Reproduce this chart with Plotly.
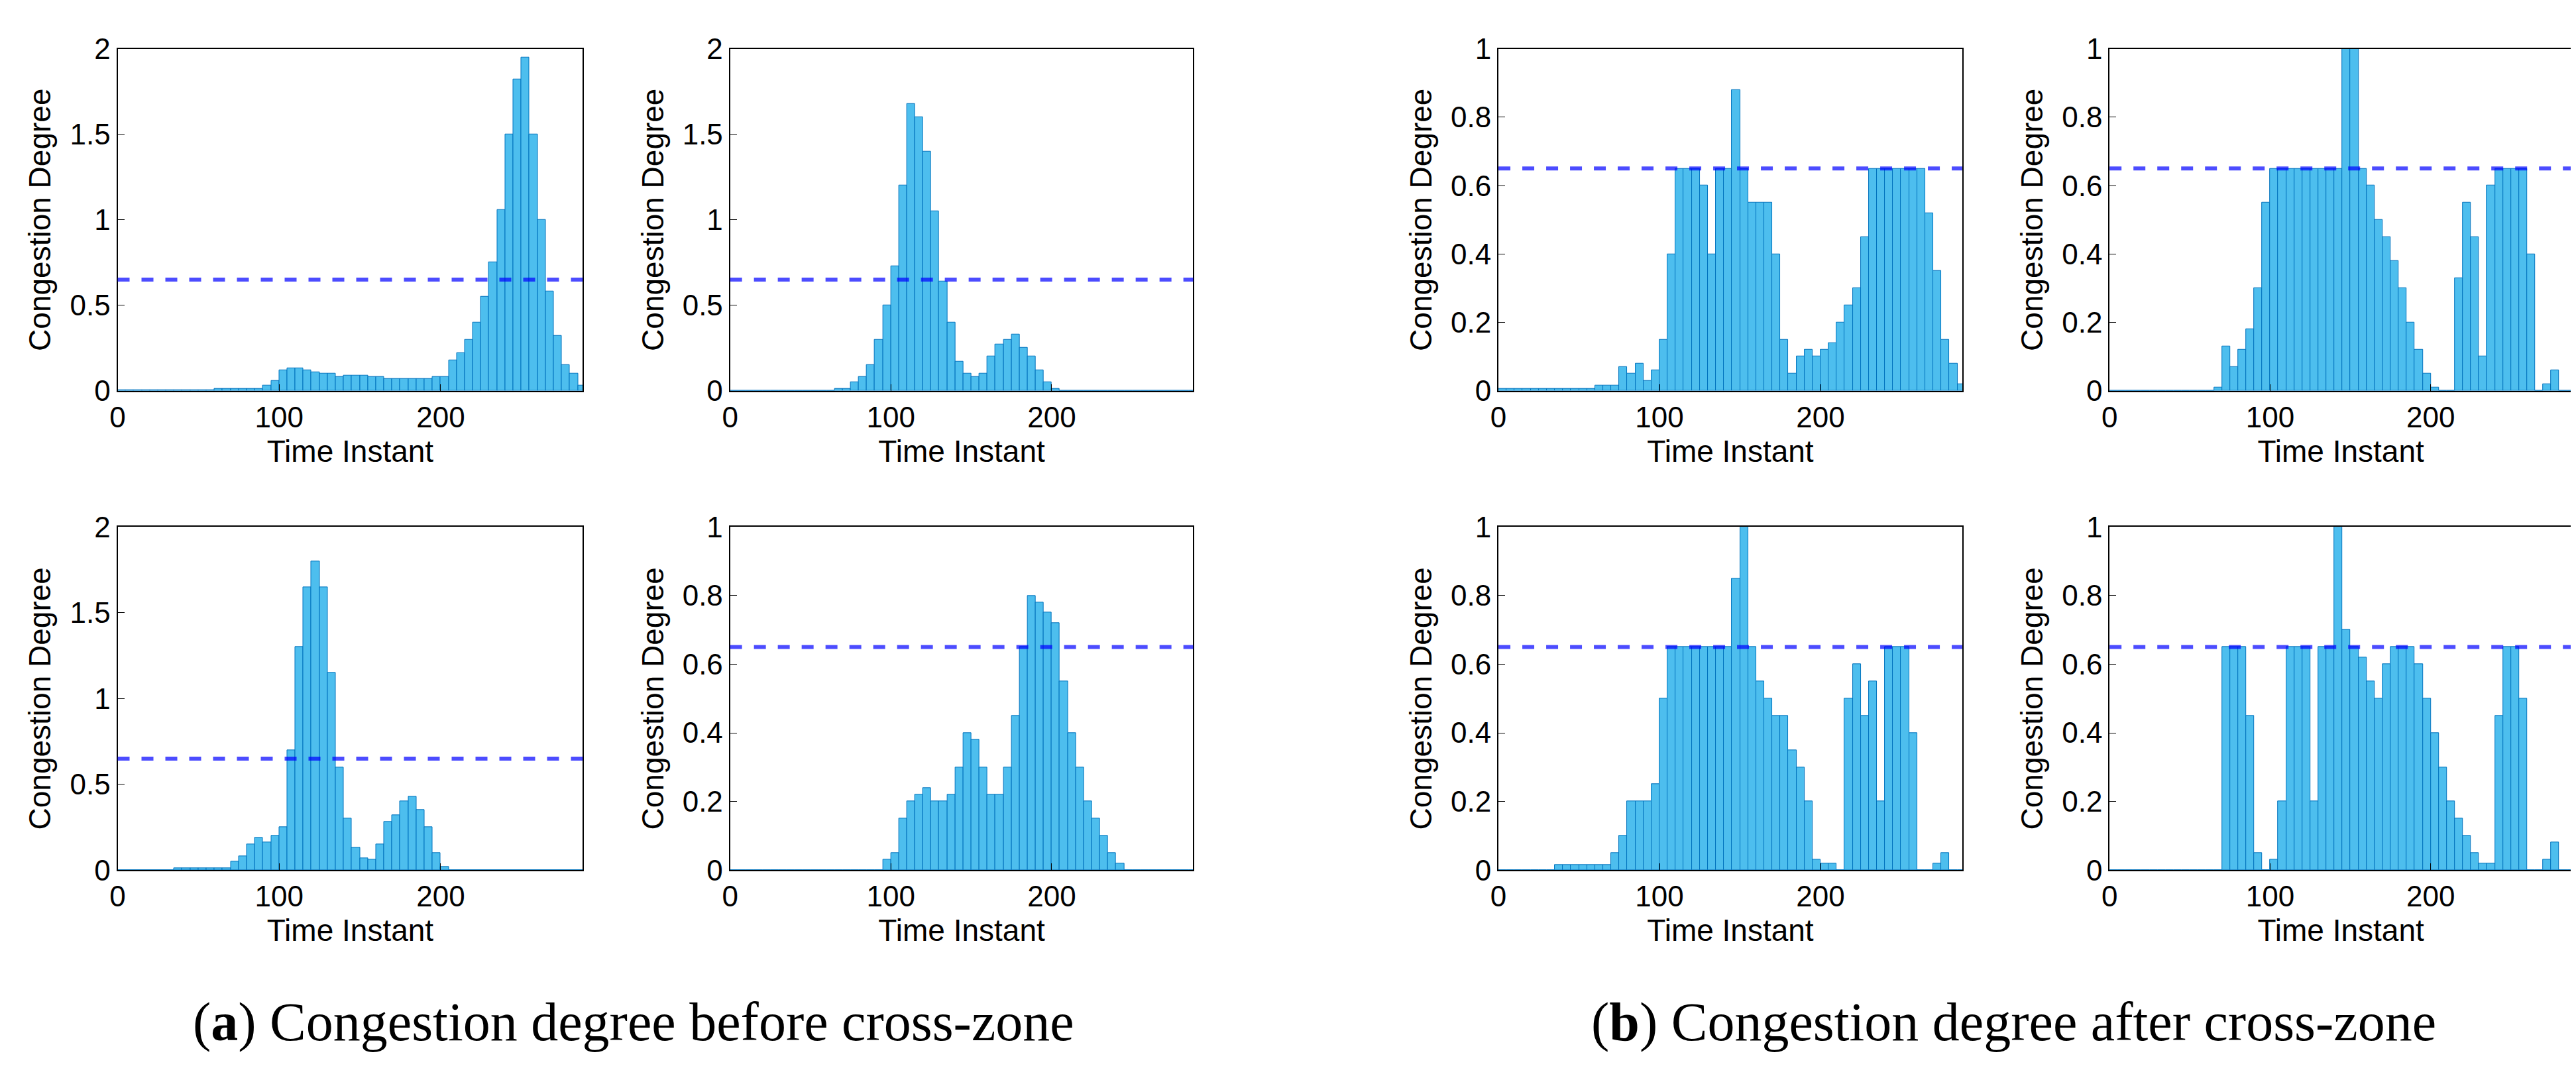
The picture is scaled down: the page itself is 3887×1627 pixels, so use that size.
import plotly.graph_objects as go
from plotly.subplots import make_subplots

# time instants sampled every 5 steps
t = list(range(0, 290, 5))

# (a) before cross-zone
a1 = [0.005]*12 + [0.01, 0.01, 0.01, 0.01, 0.01, 0.01, 0.03, 0.06, 0.12, 0.13, 0.13, 0.12, 0.11, 0.1,
      0.1, 0.08, 0.09, 0.09, 0.09, 0.08, 0.08, 0.07, 0.07, 0.07, 0.07, 0.07, 0.07, 0.08, 0.08, 0.18,
      0.22, 0.3, 0.4, 0.55, 0.75, 1.06, 1.5, 1.82, 1.95, 1.5, 1.0, 0.58, 0.32, 0.15, 0.1, 0.03]
a2 = [0]*13 + [0.01, 0.01, 0.05, 0.08, 0.15, 0.3, 0.5, 0.73, 1.2, 1.68, 1.6, 1.4, 1.05, 0.64, 0.4,
      0.17, 0.1, 0.08, 0.1, 0.2, 0.27, 0.3, 0.33, 0.25, 0.2, 0.12, 0.05, 0.01] + [0]*17
a3 = [0]*7 + [0.01]*7 + [0.05, 0.08, 0.15, 0.19, 0.16, 0.2, 0.25, 0.7, 1.3, 1.65, 1.8, 1.65, 1.15,
      0.6, 0.3, 0.13, 0.07, 0.06, 0.15, 0.28, 0.32, 0.4, 0.43, 0.35, 0.25, 0.1, 0.02] + [0]*17
a4 = [0]*19 + [0.03, 0.05, 0.15, 0.2, 0.22, 0.24, 0.2, 0.2, 0.22, 0.3, 0.4, 0.38, 0.3, 0.22, 0.22,
      0.3, 0.45, 0.65, 0.8, 0.78, 0.75, 0.72, 0.55, 0.4, 0.3, 0.2, 0.15, 0.1, 0.05, 0.02] + [0]*9

# (b) after cross-zone
b1 = [0.005]*12 + [0.015, 0.015, 0.015, 0.07, 0.05, 0.08, 0.03, 0.06, 0.15, 0.4, 0.65, 0.65, 0.65,
      0.6, 0.4, 0.65, 0.65, 0.88, 0.65, 0.55, 0.55, 0.55, 0.4, 0.15, 0.05, 0.1, 0.12, 0.1, 0.12,
      0.14, 0.2, 0.25, 0.3, 0.45, 0.65, 0.65, 0.65, 0.65, 0.65, 0.65, 0.65, 0.52, 0.35, 0.15, 0.08, 0.02]
b2 = [0]*13 + [0.01, 0.13, 0.07, 0.12, 0.18, 0.3, 0.55, 0.65, 0.65, 0.65, 0.65, 0.65, 0.65, 0.65,
      0.65, 0.65, 1.0, 1.0, 0.65, 0.6, 0.5, 0.45, 0.38, 0.3, 0.2, 0.12, 0.05, 0.01, 0, 0, 0.33,
      0.55, 0.45, 0.1, 0.6, 0.65, 0.65, 0.65, 0.65, 0.4, 0, 0.02, 0.06, 0, 0]
b3 = [0]*7 + [0.015]*7 + [0.05, 0.1, 0.2, 0.2, 0.2, 0.25, 0.5, 0.65, 0.65, 0.65, 0.65, 0.65, 0.65,
      0.65, 0.65, 0.85, 1.0, 0.65, 0.55, 0.5, 0.45, 0.45, 0.35, 0.3, 0.2, 0.03, 0.02, 0.02, 0,
      0.5, 0.6, 0.45, 0.55, 0.2, 0.65, 0.65, 0.65, 0.4, 0, 0, 0.02, 0.05, 0, 0]
b4 = [0]*14 + [0.65, 0.65, 0.65, 0.45, 0.05, 0, 0.03, 0.2, 0.65, 0.65, 0.65, 0.2, 0.65, 0.65, 1.0,
      0.7, 0.65, 0.62, 0.55, 0.5, 0.6, 0.65, 0.65, 0.65, 0.6, 0.5, 0.4, 0.3, 0.2, 0.15, 0.1, 0.05,
      0.02, 0.02, 0.45, 0.65, 0.65, 0.5, 0, 0, 0.03, 0.08, 0, 0]

threshold = 0.65

panels = [(a1, 1, 1, 2), (a2, 1, 2, 2), (b1, 1, 3, 1), (b2, 1, 4, 1),
          (a3, 2, 1, 2), (a4, 2, 2, 1), (b3, 2, 3, 1), (b4, 2, 4, 1)]

W, H = 3887, 1627
xdom = [(158, 862), (1085, 1786), (2248, 2950), (3173, 3873)]
ydom = {1: (42, 574), 2: (786, 1320)}

fig = make_subplots(rows=2, cols=4)

for vals, r, c, ymax in panels:
    fig.add_trace(go.Bar(x=t[:len(vals)], y=vals, width=5, offset=0,
                         marker=dict(color='#4DBEEE', line=dict(color='#0072BD', width=1)),
                         showlegend=False), row=r, col=c)
    fig.add_hline(y=threshold, line=dict(color='rgba(0,0,255,0.7)', width=6, dash='dash'), row=r, col=c)
    idx = (r - 1) * 4 + c
    xa = 'xaxis' if idx == 1 else 'xaxis%d' % idx
    ya = 'yaxis' if idx == 1 else 'yaxis%d' % idx
    x0, x1 = xdom[c - 1]
    y0, y1 = ydom[r]
    fig.layout[xa].update(domain=[x0 / W, x1 / W])
    fig.layout[ya].update(domain=[1 - y1 / H, 1 - y0 / H])
    fig.update_xaxes(range=[0, 288], tickvals=[0, 100, 200], row=r, col=c)
    step = 0.5 if ymax == 2 else 0.2
    fig.update_yaxes(range=[0, ymax], dtick=step, row=r, col=c)

fig.update_xaxes(showline=True, mirror=True, linecolor='black', linewidth=2, ticks='inside', ticklen=10,
                 tickcolor='black', showgrid=False, zeroline=False,
                 tickfont=dict(family='Liberation Sans Narrow, Liberation Sans', size=44, color='black'),
                 title=dict(text='Time Instant', standoff=12,
                            font=dict(family='Liberation Sans', size=46, color='black')))
fig.update_yaxes(showline=True, mirror=True, linecolor='black', linewidth=2, ticks='inside', ticklen=10,
                 tickcolor='black', showgrid=False, zeroline=False,
                 tickfont=dict(family='Liberation Sans Narrow, Liberation Sans', size=44, color='black'),
                 title=dict(text='Congestion Degree', standoff=14,
                            font=dict(family='Liberation Sans', size=46, color='black')))

fig.add_annotation(x=939 / W, y=(1627 - 1556) / H, xref='paper', yref='paper', showarrow=False,
                   xanchor='center', yanchor='middle',
                   text='(<b>a</b>) Congestion degree before cross-zone',
                   font=dict(family='Liberation Serif', size=82, color='black'))
fig.add_annotation(x=3028 / W, y=(1627 - 1556) / H, xref='paper', yref='paper', showarrow=False,
                   xanchor='center', yanchor='middle',
                   text='(<b>b</b>) Congestion degree after cross-zone',
                   font=dict(family='Liberation Serif', size=82, color='black'))

fig.update_layout(width=W, height=H, margin=dict(l=0, r=0, t=0, b=0), bargap=0,
                  plot_bgcolor='white', paper_bgcolor='white')

fig.write_html("out.html")
